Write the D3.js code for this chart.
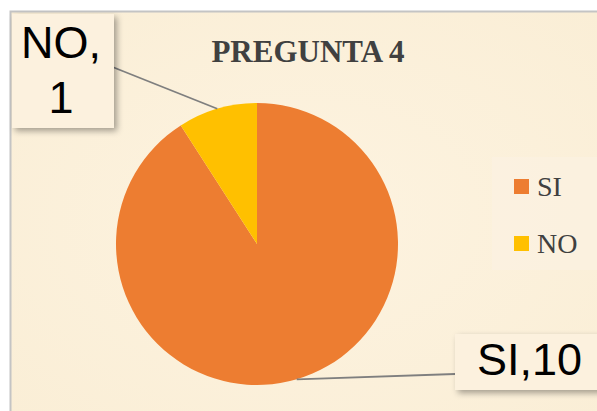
<!DOCTYPE html>
<html lang="es">
<head>
<meta charset="UTF-8">
<title>PREGUNTA 4</title>
<style>
  body { margin: 0; background: #fff; }
  svg { display: block; }
</style>
</head>
<body>
<div id="chart"></div>
<script src="https://d3js.org/d3.v7.min.js"></script>
<script>
// data
const categories = ["SI", "NO"];
const values = [10, 1];
const colors = ["#ED7D31", "#FFC000"];
const title = "PREGUNTA 4";

const W = 597, H = 411;
const cx = 257, cy = 244, r = 141;

const svg = d3.select("#chart").append("svg")
  .attr("width", W).attr("height", H);

const defs = svg.append("defs");
const bg = defs.append("radialGradient").attr("id", "bg")
  .attr("cx", "50%").attr("cy", "50%").attr("r", "70%");
bg.append("stop").attr("offset", "0%").attr("stop-color", "#fdf3e0");
bg.append("stop").attr("offset", "100%").attr("stop-color", "#faeed6");

const shadow = defs.append("filter").attr("id", "shadow")
  .attr("x", "-20%").attr("y", "-20%").attr("width", "150%").attr("height", "150%");
shadow.append("feDropShadow").attr("dx", 3).attr("dy", 3)
  .attr("stdDeviation", 3).attr("flood-color", "#000").attr("flood-opacity", 0.35);

// chart area
svg.append("rect").attr("x", 10.5).attr("y", 11.5)
  .attr("width", W).attr("height", H)
  .attr("fill", "url(#bg)").attr("stroke", "#c4c4c4").attr("stroke-width", 2);

// title
svg.append("text").attr("x", 308).attr("y", 62)
  .attr("text-anchor", "middle")
  .style("font-family", "'Liberation Serif', 'Times New Roman', serif")
  .style("font-weight", "bold").style("font-size", "31px")
  .attr("fill", "#404040").text(title);

// pie
const pie = d3.pie().sort(null).value(d => d)(values);
const arc = d3.arc().innerRadius(0).outerRadius(r);
const edge = d3.arc().innerRadius(r).outerRadius(r);

const g = svg.append("g").attr("transform", `translate(${cx},${cy})`);
g.selectAll("path").data(pie).join("path")
  .attr("d", arc)
  .attr("fill", (d, i) => colors[i]);

// legend
svg.append("rect").attr("x", 492).attr("y", 157).attr("width", 105).attr("height", 113)
  .attr("fill", "#fbf2e3").attr("opacity", 0.6);
const leg = svg.selectAll(".leg").data(categories).join("g")
  .attr("class", "leg")
  .attr("transform", (d, i) => `translate(514,${179 + i * 57})`);
leg.append("rect").attr("width", 15).attr("height", 15)
  .attr("fill", (d, i) => colors[i]);
leg.append("text").attr("x", 23).attr("y", 17)
  .style("font-family", "'Liberation Serif', 'Times New Roman', serif")
  .style("font-size", "28px").attr("fill", "#404040")
  .text(d => d);

// data labels
const labelFont = "'Liberation Sans', Arial, sans-serif";
const labels = [
  { box: [455, 334, 150, 56], lines: [categories[0] + "," + values[0]], tx: 477, ty: [375], anchor: [455, 374] },
  { box: [12, 14, 102, 114], lines: [categories[1] + ",", String(values[1])], tx: 61, ty: [58, 113], anchor: [110, 66] }
];

labels.forEach((lb, i) => {
  const p = edge.centroid(pie[i]);
  svg.append("line")
    .attr("x1", cx + p[0]).attr("y1", cy + p[1])
    .attr("x2", lb.anchor[0]).attr("y2", lb.anchor[1])
    .attr("stroke", "#7f7f7f").attr("stroke-width", 1.8);
  svg.append("rect")
    .attr("x", lb.box[0]).attr("y", lb.box[1])
    .attr("width", lb.box[2]).attr("height", lb.box[3])
    .attr("fill", "#fcf1de").attr("filter", "url(#shadow)");
  lb.lines.forEach((t, j) => {
    svg.append("text")
      .attr("x", lb.tx).attr("y", lb.ty[j])
      .attr("text-anchor", lb.lines.length > 1 ? "middle" : "start")
      .style("font-family", labelFont).style("font-size", "45px")
      .attr("fill", "#000").text(t);
  });
});
</script>
</body>
</html>
